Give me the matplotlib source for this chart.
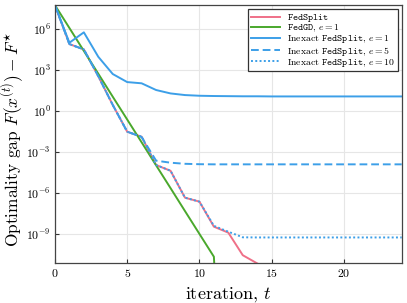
import numpy as np
import matplotlib
matplotlib.use("Agg")
from matplotlib import pyplot as plt

# Computer Modern look
plt.rcParams['font.family'] = 'cmr10'
plt.rcParams['mathtext.fontset'] = 'cm'
plt.rcParams['axes.formatter.use_mathtext'] = True
plt.rcParams['axes.unicode_minus'] = False

# log10 of the optimality gap
t_gd = [0, 1, 2, 3, 4, 5, 6, 7, 8, 9, 10, 11, 12]
gd = [7.75, 6.08, 4.40, 2.73, 1.05, -0.62, -2.29, -3.97, -5.64, -7.32, -8.99, -10.66, -30.0]

t_split = [0, 1, 2, 3, 4, 5, 6, 7, 8, 9, 10, 11, 12, 13, 14]
split = [7.75, 4.90, 4.51, 2.55, 0.45, -1.51, -1.88, -3.95, -4.37, -6.34, -6.63, -8.46, -8.90, -10.55, -11.15]

t_inexact = np.arange(0, 25)
inexact_e1 = [7.75, 5.00, 5.76, 3.97, 2.71, 2.12, 2.03, 1.54, 1.29, 1.17, 1.12, 1.10, 1.09,
              1.08, 1.08, 1.07, 1.07, 1.07, 1.07, 1.07, 1.07, 1.07, 1.07, 1.07, 1.07]
inexact_e5 = [7.75, 4.90, 4.51, 2.55, 0.45, -1.51, -1.90, -3.63, -3.78, -3.86, -3.89, -3.90, -3.90,
              -3.90, -3.90, -3.90, -3.90, -3.90, -3.90, -3.90, -3.90, -3.90, -3.90, -3.90, -3.90]
inexact_e10 = [7.75, 4.90, 4.51, 2.55, 0.45, -1.51, -1.88, -3.95, -4.37, -6.34, -6.63, -8.40, -8.83,
               -9.24, -9.25, -9.25, -9.25, -9.25, -9.25, -9.25, -9.25, -9.25, -9.25, -9.25, -9.25]

pink = '#ef7088'
green = '#4aa82c'
blue = '#3c9fe8'

fig = plt.figure(figsize=(4.07, 3.03), dpi=100)
ax = fig.add_axes([0.135, 0.132, 0.852, 0.851])

ax.plot(t_split, 10.0 ** np.array(split), color=pink, lw=1.4, label=r'$\mathtt{FedSplit}$')
ax.plot(t_gd, 10.0 ** np.array(gd), color=green, lw=1.4, label=r'$\mathtt{FedGD}$, $e=1$')
ax.plot(t_inexact, 10.0 ** np.array(inexact_e1), color=blue, lw=1.4,
        label=r'Inexact $\mathtt{FedSplit}$, $e=1$')
ax.plot(t_inexact, 10.0 ** np.array(inexact_e5), color=blue, lw=1.4, ls=(0, (4, 2)),
        label=r'Inexact $\mathtt{FedSplit}$, $e=5$')
ax.plot(t_inexact, 10.0 ** np.array(inexact_e10), color=blue, lw=1.4, ls=(0, (1, 1.2)),
        label=r'Inexact $\mathtt{FedSplit}$, $e=10$')

ax.set_yscale('log')
ax.set_xlim(0, 24)
ax.set_ylim(10 ** -11.12, 10 ** 7.75)
ax.set_xticks([0, 5, 10, 15, 20])
ax.set_yticks([1e-9, 1e-6, 1e-3, 1e0, 1e3, 1e6])
ax.minorticks_off()
ax.tick_params(direction='in', length=3, labelsize=8.5, pad=3, colors='#333333', labelcolor='black')
ax.grid(True, color='#e6e6e6', lw=0.8)
for s in ax.spines.values():
    s.set_color('#444444')
    s.set_linewidth(0.9)

ax.set_xlabel(r'iteration, $t$', fontsize=13, labelpad=0)
ax.xaxis.set_label_coords(0.5, -0.085)
ax.set_ylabel(r'Optimality gap $F(x^{(t)}) - F^{\star}$', fontsize=12.5)
ax.yaxis.set_label_coords(-0.083, 0.48)

leg = ax.legend(loc='upper right', fontsize=7, frameon=True, fancybox=False,
                edgecolor='#333333', framealpha=1, handlelength=3.0, labelspacing=-0.1,
                borderpad=0.3, borderaxespad=0.4, handletextpad=0.7)
leg.get_frame().set_linewidth(0.9)

fig.savefig('out.png', dpi=100)
